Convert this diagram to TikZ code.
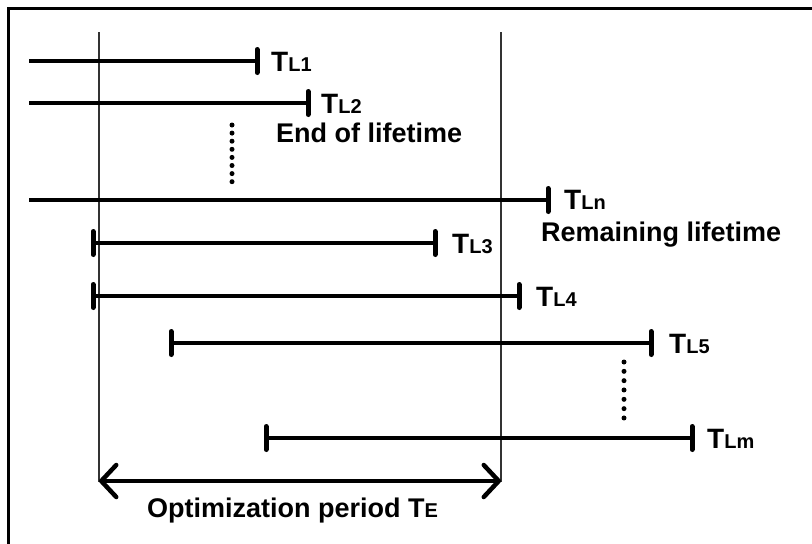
\documentclass[tikz,border=0pt]{standalone}
\usepackage{fontspec}
\setmainfont{Liberation Sans}
\usetikzlibrary{arrows.meta}
\newcommand\lsub[1]{{\fontsize{20}{20}\selectfont #1}}
\begin{document}
\begin{tikzpicture}[x=1pt,y=-1pt,
  frame/.style={line width=3pt},
  guide/.style={line width=1.2pt, draw=black!80},
  life/.style={line width=3.5pt},
  tickmark/.style={line width=5pt, line cap=round},
  lbl/.style={anchor=base west, inner sep=0pt, font=\fontsize{28}{28}\selectfont\bfseries},
  txt/.style={anchor=base west, inner sep=0pt, font=\fontsize{27}{27}\selectfont\bfseries},
  dotmark/.style={fill=black, circle, inner sep=0pt, minimum size=5pt},
  period/.style={line width=4.5pt, {Straight Barb[length=15pt,width=32pt,round]}-{Straight Barb[length=15pt,width=32pt,round]}}
]
\useasboundingbox (0,0) rectangle (812,544);
\fill[white] (0,0) rectangle (812,544);
% frame (top and left edges only)
\coordinate (fTR) at (814,8);
\coordinate (fTL) at (8,8);
\coordinate (fBL) at (8,546);
\draw[frame] (fTR) -- (fTL) -- (fBL);
% guides
\coordinate (g1t) at (99,32);  \coordinate (g1b) at (99,482);
\coordinate (g2t) at (501,32); \coordinate (g2b) at (501,482);
\draw[guide] (g1t) -- (g1b);
\draw[guide] (g2t) -- (g2b);
% row 1
\coordinate (a1) at (29,61); \coordinate (b1) at (257,61);
\draw[life] (a1) -- (b1);
\draw[tickmark] (b1) ++(0,-11.5) -- ++(0,23);
\node[lbl] (t1) at (271,71) {T\lsub{L1}};
% row 2
\coordinate (a2) at (29,103); \coordinate (b2) at (308,103);
\draw[life] (a2) -- (b2);
\draw[tickmark] (b2) ++(0,-11.5) -- ++(0,23);
\node[lbl] (t2) at (321,113) {T\lsub{L2}};
\node[txt] (eol) at (276,142) {End of lifetime};
% dots 1
\foreach \i in {0,...,7} \node[dotmark] (da\i) at (232,125+8.1*\i) {};
% row n
\coordinate (an) at (29,200); \coordinate (bn) at (548,200);
\draw[life] (an) -- (bn);
\draw[tickmark] (bn) ++(0,-11.5) -- ++(0,23);
\node[lbl] (tn) at (564,209) {T\lsub{Ln}};
\node[txt] (rem) at (541,241) {Remaining lifetime};
% row 3
\coordinate (a3) at (93,243); \coordinate (b3) at (435,243);
\draw[life] (a3) -- (b3);
\draw[tickmark] (a3) ++(0,-11.5) -- ++(0,23);
\draw[tickmark] (b3) ++(0,-11.5) -- ++(0,23);
\node[lbl] (t3) at (452,253) {T\lsub{L3}};
% row 4
\coordinate (a4) at (93,296); \coordinate (b4) at (519,296);
\draw[life] (a4) -- (b4);
\draw[tickmark] (a4) ++(0,-11.5) -- ++(0,23);
\draw[tickmark] (b4) ++(0,-11.5) -- ++(0,23);
\node[lbl] (t4) at (536,306) {T\lsub{L4}};
% row 5
\coordinate (a5) at (171,343); \coordinate (b5) at (651,343);
\draw[life] (a5) -- (b5);
\draw[tickmark] (a5) ++(0,-11.5) -- ++(0,23);
\draw[tickmark] (b5) ++(0,-11.5) -- ++(0,23);
\node[lbl] (t5) at (669,353) {T\lsub{L5}};
% dots 2
\foreach \i in {0,...,6} \node[dotmark] (db\i) at (624,362+9.33*\i) {};
% row m
\coordinate (am) at (266,438); \coordinate (bm) at (692,438);
\draw[life] (am) -- (bm);
\draw[tickmark] (am) ++(0,-11.5) -- ++(0,23);
\draw[tickmark] (bm) ++(0,-11.5) -- ++(0,23);
\node[lbl] (tm) at (707,448) {T\lsub{Lm}};
% optimization period
\coordinate (pL) at (99,481); \coordinate (pR) at (501,481);
\draw[period] (pL) -- (pR);
\node[txt] (opt) at (147,517) {Optimization period T\lsub{E}};
\end{tikzpicture}
\end{document}
